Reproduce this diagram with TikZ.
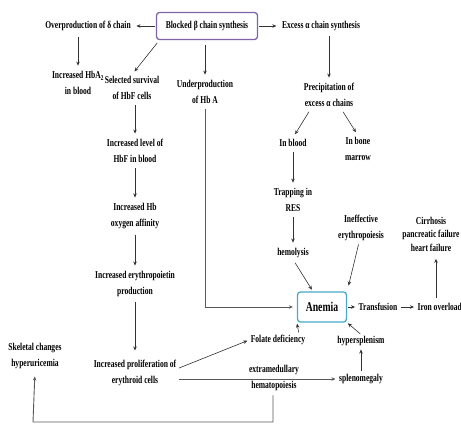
\documentclass[tikz,border=0pt]{standalone}
\usepackage{fontspec}
\setmainfont{Liberation Serif}[FakeStretch=0.72]
\usetikzlibrary{arrows.meta}
\definecolor{boxpurple}{RGB}{128,100,168}
\definecolor{boxcyan}{RGB}{70,170,205}
\begin{document}
\begin{tikzpicture}[x=1pt,y=-1pt,
  txt/.style={font=\bfseries\fontsize{10.5}{16}\selectfont,align=center,inner sep=1.5pt},
  arr/.style={draw=black!80,line width=0.6pt,-{Stealth[length=4pt,width=3.5pt]},shorten <=4pt,shorten >=4pt},
  lin/.style={draw=black!65,line width=0.9pt}]
\useasboundingbox (0,0) rectangle (461,432);
\fill[white] (0,0) rectangle (461,432);
% nodes
\node[txt,draw=boxpurple,line width=1.3pt,rounded corners=3pt,minimum width=101pt,minimum height=27pt] (blk) at (207,26) {Blocked β chain synthesis};
\node[txt] (over) at (88,26) {Overproduction of δ chain};
\node[txt] (exc) at (321,26) {Excess α chain synthesis};
\node[txt] (hba) at (78,83) {Increased HbA\textsubscript{2}\\in blood};
\node[txt] (sel) at (132,88) {Selected survival\\of HbF cells};
\node[txt] (under) at (205,92) {Underproduction\\of Hb A};
\node[txt] (prec) at (329,95) {Precipitation of\\excess α chains};
\node[txt] (inb) at (293,143) {In blood};
\node[txt] (bone) at (358,149) {In bone\\marrow};
\node[txt] (trap) at (293,200) {Trapping in\\RES};
\node[txt] (hemo) at (293,253) {hemolysis};
\node[txt] (ineff) at (361,228) {Ineffective\\erythropoiesis};
\node[txt,font=\bfseries\fontsize{10.5}{13.5}\selectfont] (cirr) at (431,234) {Cirrhosis\\pancreatic failure\\heart failure};
\node[txt] (lvl) at (135,151) {Increased level of\\HbF in blood};
\node[txt] (aff) at (135,216) {Increased Hb\\oxygen affinity};
\node[txt] (epo) at (135,284) {Increased erythropoietin\\production};
\node[txt] (prol) at (135,373) {Increased proliferation of\\erythroid cells};
\node[txt] (skel) at (35,356) {Skeletal changes\\hyperuricemia};
\node[txt,font=\bfseries\fontsize{13.5}{16}\selectfont,draw=boxcyan,line width=1.3pt,rounded corners=3pt,minimum width=49pt,minimum height=30pt] (anemia) at (322,307) {Anemia};
\node[txt] (trans) at (378,307) {Transfusion};
\node[txt,anchor=west] (iron) at (416,307) {Iron overload};
\node[txt] (folate) at (278,340) {Folate deficiency};
\node[txt] (hyper) at (361,341) {hypersplenism};
\node[txt] (spleno) at (361,379) {splenomegaly};
\node[txt] (extra) at (274,378) {extramedullary\\hematopoiesis};
\coordinate (loopL) at (33,422);
% connectors
\draw[arr,shorten <=1pt] (blk.west) -- (over.east);
\draw[arr,shorten <=1pt] (blk.east) -- (exc.west);
\draw[arr] (over.south -| hba.north) -- (hba.north);
\draw[arr,shorten <=1pt] (blk.south west) ++(2,2) -- (sel.north);
\draw[arr,shorten <=5pt] (blk.south -| under.north) -- (under.north);
\draw[lin,-{Stealth[length=4pt,width=3.5pt]},shorten <=4pt,shorten >=4pt] (under.south) |- (anemia.west);
\draw[arr] (sel.south -| lvl.north) -- (lvl.north);
\draw[arr] (lvl) -- (aff);
\draw[arr] (aff) -- (epo);
\draw[arr,shorten >=8pt] (epo) -- (prol);
\draw[arr] (exc.south -| prec.north) -- (prec.north);
\draw[arr] (prec.south) ++(-18,0) -- (inb.north);
\draw[arr] (prec.south) ++(12,0) -- (bone.north);
\draw[arr] (inb) -- (trap);
\draw[arr] (trap) -- (hemo);
\draw[arr,shorten <=4pt,shorten >=2pt] (hemo.south) -- (anemia.120);
\draw[arr,shorten <=2pt,shorten >=6pt] (ineff.south) ++(-2,0) -- (anemia.north east);
\draw[arr,shorten <=1pt,shorten >=2pt] (anemia.east) -- (trans.west);
\draw[arr,shorten <=2pt,shorten >=2pt] (trans.east) -- (iron.west);
\draw[arr,shorten <=4pt,shorten >=6pt] (iron.north -| 436,0) -- (cirr.south -| 436,0);
\draw[arr,shorten <=1pt,shorten >=1pt] (folate.north east) ++(-8,0) -- (anemia.south west);
\draw[arr,shorten <=1pt,shorten >=1pt] (hyper.north) -- (anemia.south east);
\draw[arr,shorten <=2pt,shorten >=2pt] (spleno) -- (hyper);
\draw[arr,shorten <=1pt,shorten >=2pt] (prol.north east) ++(0,10) -- (folate.west);
\draw[lin,-{Stealth[length=4pt,width=3.5pt]},shorten <=1pt,shorten >=2pt] (prol.east) ++(0,6) -- (spleno.west |- 0,379);
\draw[lin,-{Stealth[length=4pt,width=3.5pt]},shorten >=6pt] (extra.south) ++(-1,3) |- (loopL) -- (skel.south);
\end{tikzpicture}
\end{document}
